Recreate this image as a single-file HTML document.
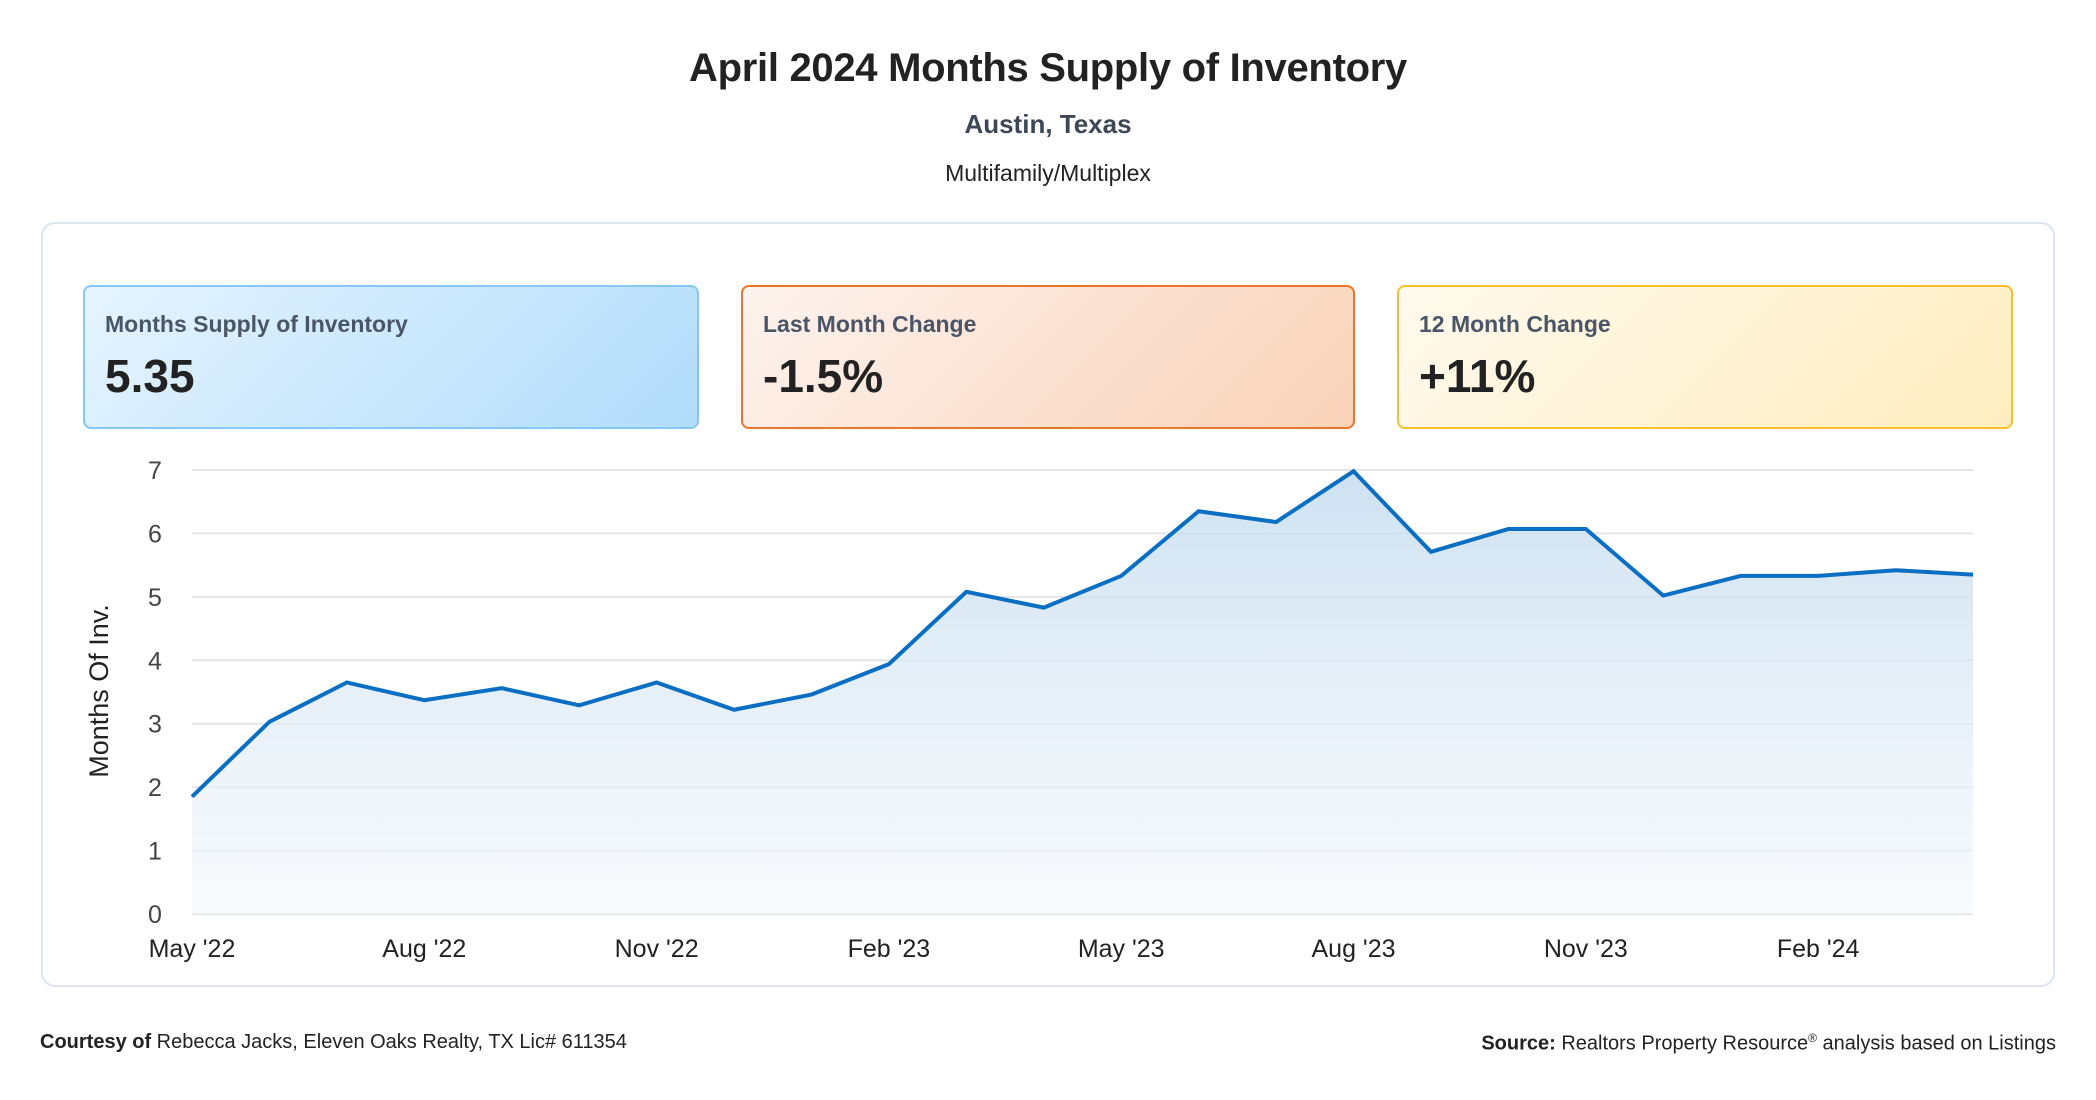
<!DOCTYPE html>
<html><head><meta charset="utf-8">
<style>
body{margin:0;width:2096px;height:1100px;background:#fff;font-family:"Liberation Sans",sans-serif;position:relative;overflow:hidden;color:#222}
.t{position:absolute;left:0;width:2096px;text-align:center}
.card{position:absolute;left:41px;top:222px;width:2014px;height:765px;border:2px solid #dde4ee;border-radius:14px;box-sizing:border-box}
.box{position:absolute;top:285px;height:144px;border-radius:8px;box-sizing:border-box;border:2px solid}
.box .l{position:absolute;left:20px;top:24px;font-size:23px;font-weight:bold;color:#4a5568}
.box .v{position:absolute;left:20px;top:62px;font-size:46px;font-weight:bold;color:#222}
.foot{position:absolute;top:1031px;font-size:20px;color:#222}
</style></head><body>
<div class="t" style="top:46px;font-size:40px;font-weight:bold;letter-spacing:-0.3px">April 2024 Months Supply of Inventory</div>
<div class="t" style="top:109px;font-size:26px;font-weight:bold;color:#3d4756">Austin, Texas</div>
<div class="t" style="top:160px;font-size:23px">Multifamily/Multiplex</div>
<div class="card"></div>
<div class="box" style="left:83px;width:616px;border-color:#86c8f5;background:linear-gradient(135deg,#e6f4fe,#b1dcfb)"><div class="l">Months Supply of Inventory</div><div class="v">5.35</div></div>
<div class="box" style="left:741px;width:614px;border-color:#e8772e;background:linear-gradient(135deg,#fdf3ee,#f9d2b8)"><div class="l">Last Month Change</div><div class="v">-1.5%</div></div>
<div class="box" style="left:1397px;width:616px;border-color:#f5c02c;background:linear-gradient(135deg,#fffaee,#ffedc0)"><div class="l">12 Month Change</div><div class="v">+11%</div></div>
<svg id="chart" width="2096" height="1100" style="position:absolute;left:0;top:0">
<defs><linearGradient id="g" x1="0" y1="0" x2="0" y2="1"><stop offset="0" stop-color="#c5dcef" stop-opacity="0.85"/><stop offset="1" stop-color="#f4f8fc" stop-opacity="0.6"/></linearGradient></defs>
<text transform="translate(108,691) rotate(-90)" text-anchor="middle" font-size="27" fill="#222">Months Of Inv.</text>
</svg>
<div class="foot" style="left:40px"><b>Courtesy of</b> Rebecca Jacks, Eleven Oaks Realty, TX Lic# 611354</div>
<div class="foot" style="right:40px"><b>Source:</b> Realtors Property Resource<sup style="font-size:12px">®</sup> analysis based on Listings</div>
<script>
const categories=["May '22","Jun '22","Jul '22","Aug '22","Sep '22","Oct '22","Nov '22","Dec '22","Jan '23","Feb '23","Mar '23","Apr '23","May '23","Jun '23","Jul '23","Aug '23","Sep '23","Oct '23","Nov '23","Dec '23","Jan '24","Feb '24","Mar '24","Apr '24"];
const values=[1.85,3.03,3.65,3.37,3.56,3.29,3.65,3.22,3.46,3.94,5.08,4.83,5.33,6.35,6.18,6.98,5.71,6.07,6.07,5.02,5.33,5.33,5.42,5.35];
const yTicks=[0,1,2,3,4,5,6,7];
const xTickIdx=[0,3,6,9,12,15,18,21];
const NS="http://www.w3.org/2000/svg",svg=document.getElementById('chart');
const X0=192,X1=1973,Y0=914,Y7=470;
const x=i=>X0+(X1-X0)*i/(categories.length-1);
const y=v=>Y0-(Y0-Y7)*v/7;
function mk(t,a){const e=document.createElementNS(NS,t);for(const k in a)e.setAttribute(k,a[k]);svg.appendChild(e);return e;}
yTicks.forEach(v=>{
 const l=mk('line',{x1:X0,x2:X1,y1:y(v),y2:y(v),stroke:'#e3e5e8','stroke-width':2});
 
 
 const t=mk('text',{x:155,y:y(v)+9,'text-anchor':'middle','font-size':25,fill:'#444'});t.textContent=v;
 
 
});
xTickIdx.forEach(i=>{
 const t=mk('text',{x:x(i),y:957,'text-anchor':'middle','font-size':25,fill:'#222'});t.textContent=categories[i];
 
 
});
let pts=values.map((v,i)=>x(i)+','+y(v)).join(' ');
const area=mk('polygon',{points:X0+','+Y0+' '+pts+' '+X1+','+Y0,fill:'url(#g)'});


const line=mk('polyline',{points:pts,fill:'none',stroke:'#0a6fc2','stroke-width':4,'stroke-linejoin':'miter'});


</script>
</body></html>
